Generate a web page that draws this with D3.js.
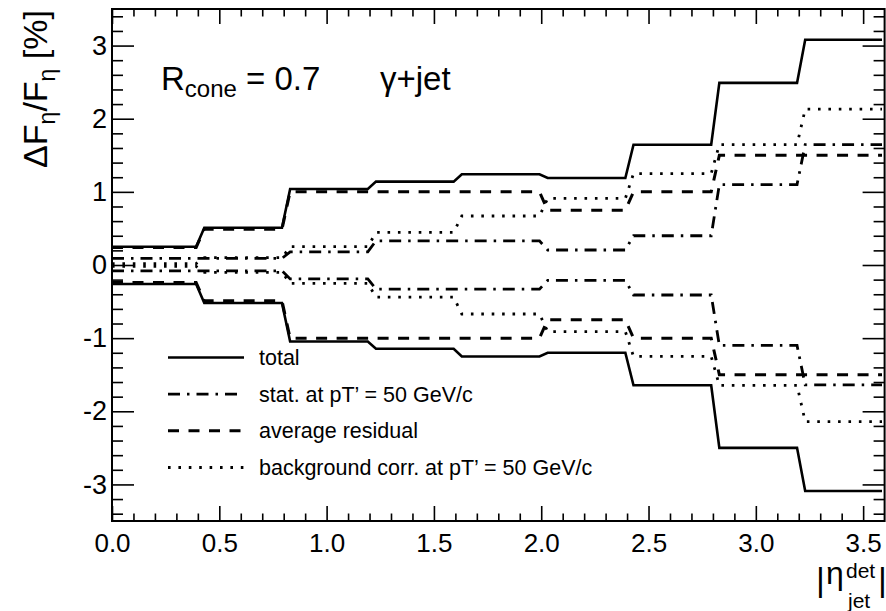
<!DOCTYPE html>
<html>
<head>
<meta charset="utf-8">
<script src="https://cdn.jsdelivr.net/npm/d3@7"></script>
<style>
  html, body { margin: 0; padding: 0; background: #fff; }
  svg { display: block; }
  text { font-family: "Liberation Sans", Arial, Helvetica, sans-serif; fill: #000; }
</style>
</head>
<body>
<svg id="chart" width="886" height="611"></svg>
<script>
// |eta| bin edges of the jet
const binEdges = [0.0, 0.4, 0.8, 1.2, 1.6, 2.0, 2.4, 2.8, 3.2, 3.6];

// relative uncertainty in percent, upper / lower band per bin
const totalUp    = [0.25, 0.51, 1.04, 1.14, 1.24, 1.19, 1.645, 2.49, 3.08];
const totalDown  = [-0.26, -0.52, -1.045, -1.145, -1.25, -1.20, -1.645, -2.50, -3.09];
const statUp     = [0.09, 0.09, 0.18, 0.33, 0.33, 0.205, 0.40, 1.10, 1.645];
const statDown   = [-0.08, -0.08, -0.19, -0.33, -0.33, -0.21, -0.41, -1.10, -1.64];
const residUp    = [0.24, 0.49, 1.00, 1.00, 1.00, 0.75, 1.00, 1.50, 1.50];
const residDown  = [-0.24, -0.49, -1.00, -1.00, -1.00, -0.75, -1.00, -1.50, -1.50];
const bkgUp      = [0.02, 0.10, 0.25, 0.445, 0.67, 0.91, 1.25, 1.645, 2.13];
const bkgDown    = [-0.02, -0.10, -0.25, -0.44, -0.67, -0.91, -1.25, -1.645, -2.14];

const legendLabels = [
  "total",
  "stat. at pT\u2019 = 50 GeV/c",
  "average residual",
  "background corr. at pT\u2019 = 50 GeV/c"
];

const xTicks = [0.0, 0.5, 1.0, 1.5, 2.0, 2.5, 3.0, 3.5];
const yTicks = [-3, -2, -1, 0, 1, 2, 3];

const svg = d3.select("#chart");
const plot = { left: 112, right: 884.6, top: 9, bottom: 521 };

const x = d3.scaleLinear().domain([0, 3.6]).range([plot.left, plot.right]);
const y = d3.scaleLinear().domain([-3.5, 3.5]).range([plot.bottom, plot.top]);

// line styles per component
const styles = {
  total: { dash: null,          width: 2.6 },
  stat:  { dash: "12,7,2.5,7",  width: 2.8 },
  resid: { dash: "11,9.5",      width: 3 },
  bkg:   { dash: "2.6,7.8",     width: 2.8 }
};

svg.append("defs").append("clipPath").attr("id", "plotClip")
  .append("rect")
  .attr("x", plot.left).attr("y", plot.top)
  .attr("width", plot.right - plot.left).attr("height", plot.bottom - plot.top);

// step outline with short slanted risers at each bin edge
function stepPoints(values) {
  const pts = [];
  values.forEach((v, i) => {
    const lo = i === 0 ? binEdges[0] : binEdges[i] + 0.03;
    const hi = i === values.length - 1 ? binEdges[i + 1] - 0.012 : binEdges[i + 1] - 0.008;
    pts.push([lo, v], [hi, v]);
  });
  return pts;
}

const line = d3.line().x(d => x(d[0])).y(d => y(d[1]));

const series = [
  { vals: bkgUp,     st: styles.bkg },
  { vals: bkgDown,   st: styles.bkg },
  { vals: statUp,    st: styles.stat },
  { vals: statDown,  st: styles.stat },
  { vals: residUp,   st: styles.resid },
  { vals: residDown, st: styles.resid },
  { vals: totalUp,   st: styles.total },
  { vals: totalDown, st: styles.total }
];

const g = svg.append("g").attr("clip-path", "url(#plotClip)");
series.forEach(s => {
  g.append("path")
    .attr("d", line(stepPoints(s.vals)))
    .attr("fill", "none")
    .attr("stroke", "#000")
    .attr("stroke-width", s.st.width)
    .attr("stroke-dasharray", s.st.dash);
});

// axes: ticks point inward on all four sides
const xMinor = d3.range(1, 36).map(i => i / 10).filter(v => Math.abs(v * 2 - Math.round(v * 2)) > 1e-6);
const yMinor = d3.range(-17, 18).map(i => i / 5).filter(v => Math.abs(v - Math.round(v)) > 1e-6);

function styleAxis(sel) {
  sel.select(".domain").remove();
  sel.selectAll(".tick line").attr("stroke", "#000").attr("stroke-width", 1.6);
}

svg.append("g").attr("transform", `translate(0,${plot.bottom})`)
  .call(d3.axisBottom(x).tickValues(xTicks).tickFormat(d3.format(".1f")).tickSizeInner(-15).tickSizeOuter(0).tickPadding(13))
  .call(styleAxis)
  .call(s => s.selectAll("text").style("font-size", "26px"));
svg.append("g").attr("transform", `translate(0,${plot.bottom})`)
  .call(d3.axisBottom(x).tickValues(xMinor).tickFormat("").tickSizeInner(-7.5).tickSizeOuter(0))
  .call(styleAxis);
svg.append("g").attr("transform", `translate(0,${plot.top})`)
  .call(d3.axisTop(x).tickValues(xTicks).tickFormat("").tickSizeInner(-15).tickSizeOuter(0))
  .call(styleAxis);
svg.append("g").attr("transform", `translate(0,${plot.top})`)
  .call(d3.axisTop(x).tickValues(xMinor).tickFormat("").tickSizeInner(-7.5).tickSizeOuter(0))
  .call(styleAxis);

svg.append("g").attr("transform", `translate(${plot.left},0)`)
  .call(d3.axisLeft(y).tickValues(yTicks).tickFormat(d3.format("d")).tickSizeInner(-22).tickSizeOuter(0).tickPadding(5))
  .call(styleAxis)
  .call(s => s.selectAll("text").style("font-size", "27px").text(d => String(d)));
svg.append("g").attr("transform", `translate(${plot.left},0)`)
  .call(d3.axisLeft(y).tickValues(yMinor).tickFormat("").tickSizeInner(-11).tickSizeOuter(0))
  .call(styleAxis);
svg.append("g").attr("transform", `translate(${plot.right},0)`)
  .call(d3.axisRight(y).tickValues(yTicks).tickFormat("").tickSizeInner(-22).tickSizeOuter(0))
  .call(styleAxis);
svg.append("g").attr("transform", `translate(${plot.right},0)`)
  .call(d3.axisRight(y).tickValues(yMinor).tickFormat("").tickSizeInner(-11).tickSizeOuter(0))
  .call(styleAxis);

// frame
svg.append("rect")
  .attr("x", plot.left).attr("y", plot.top)
  .attr("width", plot.right - plot.left).attr("height", plot.bottom - plot.top)
  .attr("fill", "none").attr("stroke", "#000").attr("stroke-width", 2);

// y-axis title
const yt = svg.append("text")
  .attr("transform", `translate(47,${plot.top + 1}) rotate(-90)`)
  .attr("text-anchor", "end")
  .style("font-size", "34px");
yt.append("tspan").text("\u0394F");
yt.append("tspan").attr("dy", 8).style("font-size", "23px").text("\u03B7");
yt.append("tspan").attr("dy", -8).text("/F");
yt.append("tspan").attr("dy", 8).style("font-size", "23px").text("\u03B7");
yt.append("tspan").attr("dy", -8).text(" [%]");

// x-axis title
const xt = svg.append("g");
xt.append("text").attr("x", 816).attr("y", 591).style("font-size", "34px").text("|");
xt.append("text").attr("x", 826).attr("y", 584).style("font-size", "32px").text("\u03B7");
xt.append("text").attr("x", 846).attr("y", 578).style("font-size", "21px").text("det");
xt.append("text").attr("x", 848).attr("y", 608).style("font-size", "21px").text("jet");
xt.append("text").attr("x", 878).attr("y", 591).style("font-size", "34px").text("|");

// annotations
const r = svg.append("text").attr("x", 161).attr("y", 90).style("font-size", "33px");
r.append("tspan").text("R");
r.append("tspan").attr("dy", 7).style("font-size", "24px").text("cone");
r.append("tspan").attr("dy", -7).text(" = 0.7");
svg.append("text").attr("x", 380).attr("y", 90).style("font-size", "33px").text("\u03B3+jet");

// legend
const legendStyles = [styles.total, styles.stat, styles.resid, styles.bkg];
const legendY = d3.scalePoint().domain(d3.range(legendLabels.length)).range([357.5, 467.5]);
const lg = svg.append("g");
legendLabels.forEach((lab, i) => {
  const yy = legendY(i);
  lg.append("line")
    .attr("x1", 168).attr("x2", 244).attr("y1", yy).attr("y2", yy)
    .attr("stroke", "#000")
    .attr("stroke-width", legendStyles[i].width)
    .attr("stroke-dasharray", legendStyles[i].dash);
  lg.append("text").attr("x", 259).attr("y", yy + 7.5)
    .style("font-size", "21.5px").text(lab);
});
</script>
</body>
</html>
